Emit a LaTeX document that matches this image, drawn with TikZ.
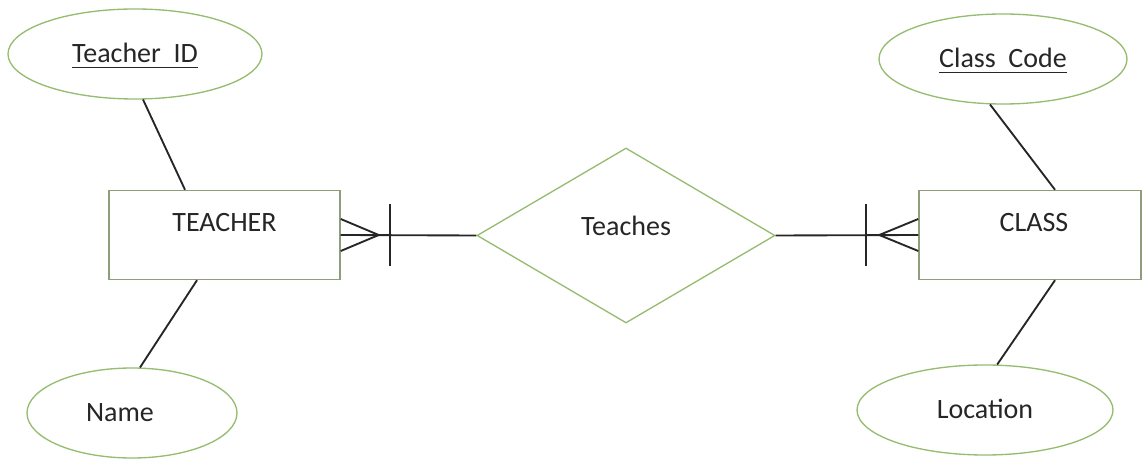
\documentclass[tikz,border=0pt]{standalone}
\usepackage{fontspec}
\setmainfont{Carlito}
\usetikzlibrary{shapes.geometric,calc}
\definecolor{attrgreen}{RGB}{150,188,112}
\definecolor{boxgrey}{RGB}{142,158,122}
\definecolor{inkgrey}{RGB}{38,38,38}
% key attributes are underlined
\newcommand{\keyname}[1]{\setbox0\hbox{#1}\rlap{\rule[-4pt]{\wd0}{1.1pt}}\box0}
\tikzset{
  entity/.style={draw=boxgrey,line width=1.1pt,rectangle,inner sep=0pt,text height=15pt,text depth=20.25pt,minimum height=66.75pt},
  attrib/.style={draw=attrgreen,line width=1pt,ellipse,inner sep=0pt,text height=17pt,text depth=3.5pt,minimum height=67.5pt},
  relation/.style={draw=attrgreen,line width=1pt,diamond,inner sep=0pt,text height=15pt,text depth=15pt,minimum width=223.5pt,minimum height=131.25pt},
  link/.style={draw=inkgrey,line width=1.4pt}
}
\begin{document}
\begin{tikzpicture}[x=0.75pt,y=-0.75pt,font=\fontsize{21}{25}\selectfont,text=inkgrey]
  \useasboundingbox (0,0) rectangle (1143,459);
  % entities and relationship
  \node[entity,minimum width=173.25pt] (teacher) at (224.5,235) {TEACHER};
  \node[entity,minimum width=166.5pt] (class) at (1030,235) {\rule{6pt}{0pt}CLASS};
  \node[relation] (teaches) at (626,235.5) {Teaches};
  % attributes
  \node[attrib,minimum width=190.5pt] (tid) at (135,54) {\keyname{Teacher\ \ ID}};
  \node[attrib,minimum width=157.5pt] (tname) at (132,413) {Name\rule{18pt}{0pt}};
  \node[attrib,minimum width=186pt] (ccode) at (1003,59) {\keyname{Class\ \ Code}};
  \node[attrib,minimum width=192pt] (cloc) at (985,410) {Location};
  \draw[link] (tid.-80) -- ($(teacher.north)+(-39.5,0)$);
  \draw[link] ($(teacher.south)+(-27.5,0)$) -- (tname.80);
  \draw[link] (ccode.-106) -- ($(class.north)+(25,0)$);
  \draw[link] ($(class.south)+(25,0)$) -- (cloc.75);
  % many-to-one-mandatory ends
  \draw[link] (teacher.east) -- (teaches.west);
  \draw[link] ($(teacher.east)+(0,-16)$) -- ($(teacher.east)+(38,0)$) -- ($(teacher.east)+(0,16)$);
  \draw[link] ($(teacher.east)+(49,-31)$) -- ($(teacher.east)+(49,31)$);
  \draw[link] (teaches.east) -- (class.west);
  \draw[link] ($(class.west)+(0,-16)$) -- ($(class.west)+(-39,0)$) -- ($(class.west)+(0,16)$);
  \draw[link] ($(class.west)+(-52,-31)$) -- ($(class.west)+(-52,31)$);
\end{tikzpicture}
\end{document}
